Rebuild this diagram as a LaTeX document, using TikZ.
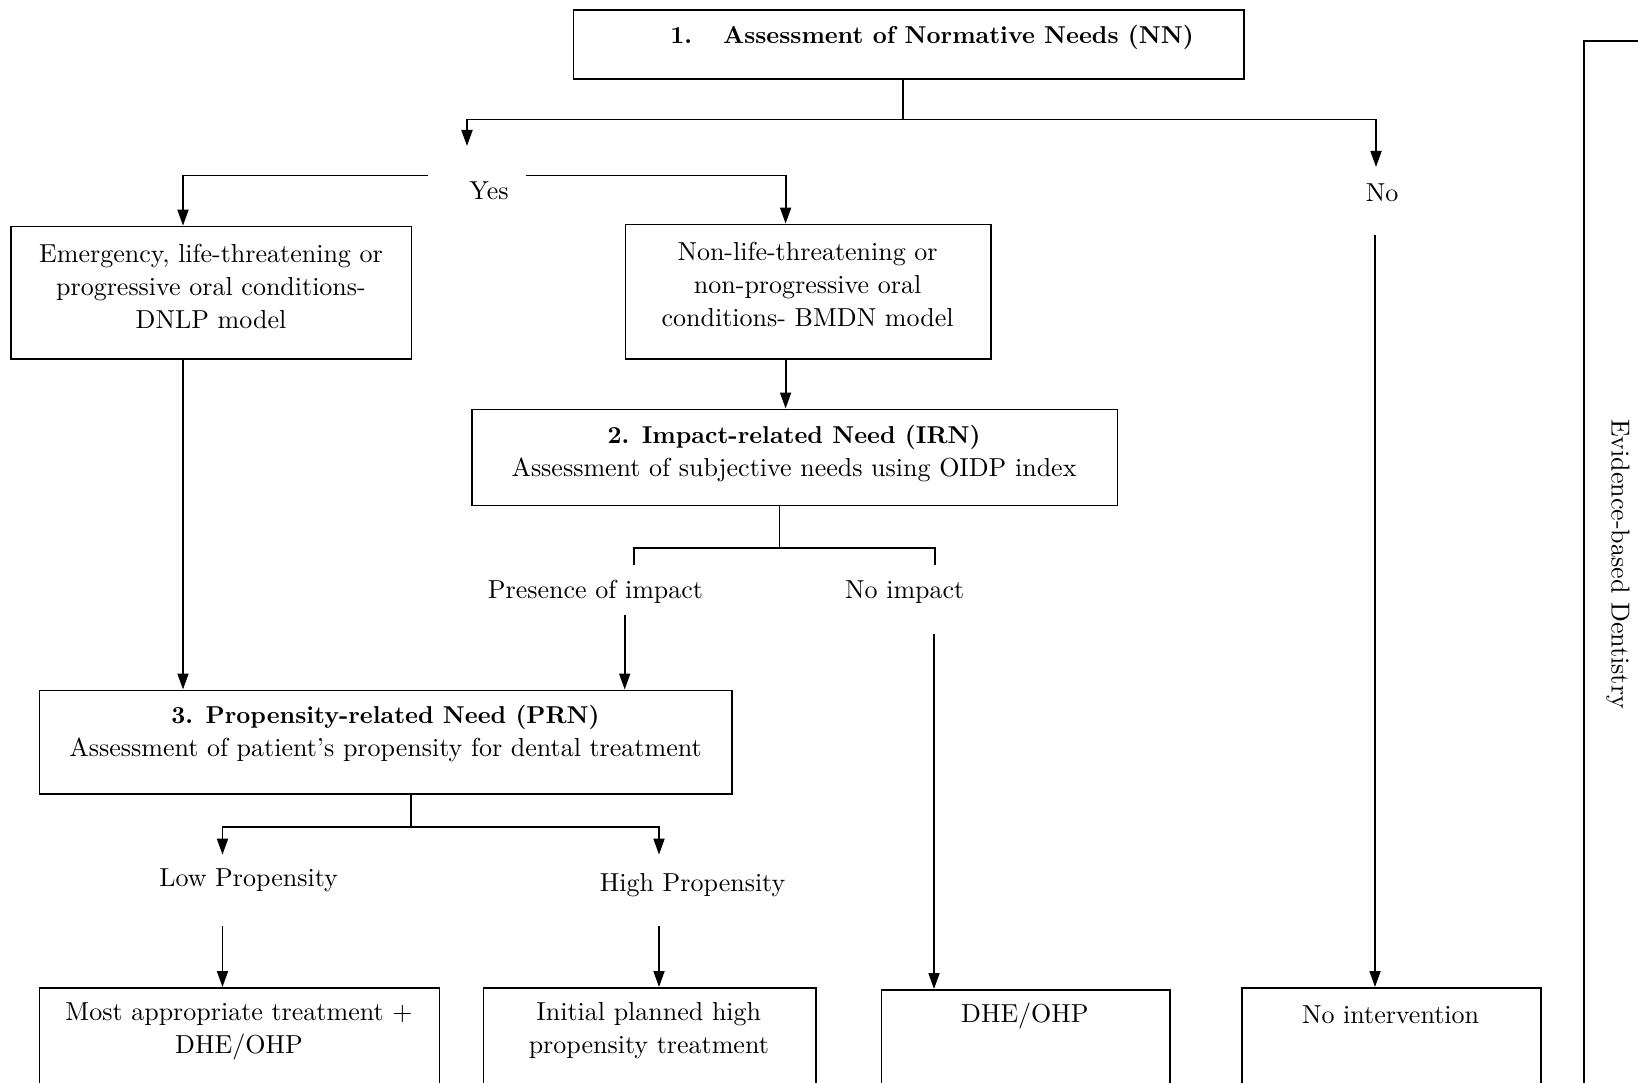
\documentclass[tikz,border=0pt]{standalone}
\usepackage{fontspec}
\setmainfont{lmroman10-regular}[Extension=.otf, BoldFont=lmroman10-bold, ItalicFont=lmroman10-italic]
\usetikzlibrary{arrows.meta}
\newcommand{\headfont}{\fontsize{24.4}{33}\selectfont\bfseries}
\begin{document}
\begin{tikzpicture}[x=1pt,y=-1pt,
  box/.style={draw, line width=1.5pt, inner sep=0pt, anchor=north west},
  txt/.style={align=center, inner sep=0pt, font=\fontsize{26}{33}\selectfont},
  conn/.style={line width=1.8pt},
  arr/.style={conn, -{Triangle[length=16pt,width=11pt]}}]
\clip (0,0) rectangle (1638,1083);
\fill[white] (0,0) rectangle (1638,1083);

% boxes
\node[box, minimum width=670.7pt, minimum height=69pt] (nn) at (572.5,9.4) {};
\node[box, minimum width=400.2pt, minimum height=132.7pt] (em) at (10.4,225.6) {};
\node[box, minimum width=365.7pt, minimum height=134.7pt] (nl) at (624.7,223.6) {};
\node[box, minimum width=645.6pt, minimum height=96.1pt] (irn) at (471.2,408.5) {};
\node[box, minimum width=692.6pt, minimum height=103.5pt] (prn) at (38.7,689.5) {};
\node[box, minimum width=400.1pt, minimum height=200pt] (b1) at (38.7,987) {};
\node[box, minimum width=332.4pt, minimum height=200pt] (b2) at (482.6,987) {};
\node[box, minimum width=288.3pt, minimum height=200pt] (b3) at (880.7,989) {};
\node[box, minimum width=299pt, minimum height=200pt] (b4) at (1241,987) {};
\node[box, line width=1.9pt, minimum width=200pt, minimum height=1100pt] (ebd) at (1582.7,39.7) {};

% texts
\node[txt] (tnn) at (932,37.6) {\headfont 1.\hspace{31pt}Assessment of Normative Needs (NN)};
\node[txt] (tyes) at (489,191) {Yes};
\node[txt] (tno) at (1382,193) {No};
\node[txt] (tem) at (211,286) {Emergency, life-threatening or\\progressive oral conditions-\\DNLP model};
\node[txt] (tnl) at (807.6,284.7) {Non-life-threatening or\\non-progressive oral\\conditions- BMDN model};
\node[txt] (tirn) at (794,453.4) {{\headfont 2. Impact-related Need (IRN)}\\Assessment of subjective needs using OIDP index};
\node[txt] (tpres) at (595.5,592.3) {Presence of impact};
\node[txt] (tnoimp) at (904.7,592.3) {No impact};
\node[txt] (tprn) at (385.5,733.4) {{\headfont 3. Propensity-related Need (PRN)}\\Assessment of patient's propensity for dental treatment};
\node[txt] (tlow) at (248.6,880.7) {Low Propensity};
\node[txt] (thigh) at (692.6,884.9) {High Propensity};
\node[txt] (tb1) at (239,1031) {Most appropriate treatment +\\DHE/OHP};
\node[txt] (tb2) at (648.8,1031) {Initial planned high\\propensity treatment};
\node[txt] (tb3) at (1024.9,1015.5) {DHE/OHP};
\node[txt] (tb4) at (1390.5,1014.4) {No intervention};
\node[txt, rotate=-90] (tebd) at (1618,564) {Evidence-based Dentistry};

% free ends of connectors
\coordinate (yesArr) at (467,146);
\coordinate (noArr) at (1376,167);
\coordinate (yesL) at (428,175.5);
\coordinate (yesR) at (525.5,175.5);
\coordinate (presTop) at (634,565);
\coordinate (noimpTop) at (935,565);
\coordinate (presBot) at (624.7,615);
\coordinate (noimpBot) at (934,634);
\coordinate (noBot) at (1375,235);
\coordinate (lowArr) at (222.5,854.6);
\coordinate (highArr) at (659,854.6);
\coordinate (lowBot) at (222.5,925.6);
\coordinate (highBot) at (659,925.6);

% normative needs split
\draw[conn] ([xshift=-5.9pt]nn.south) -- ++(0,39.6) coordinate (nnJ);
\draw[arr] (nnJ) -| (yesArr);
\draw[arr] (nnJ) -| (noArr);

% yes branches
\draw[arr] (yesL) -| ([xshift=172.6pt]em.north west);
\draw[arr] (yesR) -| ([xshift=160.9pt]nl.north west);
\draw[arr] ([xshift=172.6pt]em.south west) -- ([xshift=144.3pt]prn.north west);
\draw[arr] ([xshift=160.9pt]nl.south west) -- ([xshift=314.4pt]irn.north west);

% impact split
\draw[conn] ([xshift=308.2pt]irn.south west) -- ++(0,41.8) coordinate (irnJ);
\draw[conn] (presTop) |- (irnJ) -| (noimpTop);
\draw[arr] (presBot) -- (presBot |- prn.north);
\draw[arr] (noimpBot) -- (noimpBot |- b3.north);
\draw[arr] (noBot) -- (noBot |- b4.north);

% propensity split
\draw[conn] ([xshift=371.9pt]prn.south west) -- ++(0,32.3) coordinate (prnJ);
\draw[arr] (prnJ) -| (lowArr);
\draw[arr] (prnJ) -| (highArr);
\draw[arr] (lowBot) -- (lowBot |- b1.north);
\draw[arr] (highBot) -- (highBot |- b2.north);
\end{tikzpicture}
\end{document}
